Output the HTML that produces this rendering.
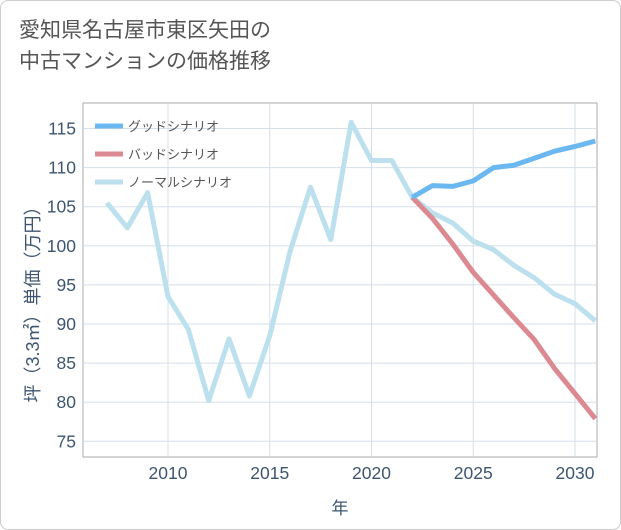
<!DOCTYPE html>
<html><head><meta charset="utf-8"><style>
body{margin:0;background:#fff;}
#wrap{position:relative;width:619px;height:528px;border:1px solid #ccc;border-radius:8px;background:#fff;overflow:hidden;font-family:"Liberation Sans","Noto Sans CJK JP",sans-serif;}
#title{position:absolute;left:18px;top:14px;font-size:21px;line-height:31px;color:#555;}
</style></head><body>
<div id="wrap">
<div id="title">愛知県名古屋市東区矢田の<br>中古マンションの価格推移</div>
<svg id="chart" width="621" height="530" style="position:absolute;left:-1px;top:-1px"></svg>
</div>
<script>
const years=[2007,2008,2009,2010,2011,2012,2013,2014,2015,2016,2017,2018,2019,2020,2021,2022,2023,2024,2025,2026,2027,2028,2029,2030,2031];
const normal=[105.5,102.3,106.8,93.5,89.3,80.2,88.1,80.8,88.5,99.3,107.5,100.8,115.8,110.9,110.9,106.2,104.2,102.9,100.6,99.5,97.5,95.9,93.8,92.6,90.4];
const futYears=[2022,2023,2024,2025,2026,2027,2028,2029,2030,2031];
const good=[106.2,107.7,107.6,108.3,110.0,110.3,111.2,112.1,112.7,113.4];
const bad=[106.2,103.5,100.2,96.6,93.7,90.8,88.0,84.3,81.1,77.9];
const xTicks=[2010,2015,2020,2025,2030];
const yTicks=[75,80,85,90,95,100,105,110,115];
const NS='http://www.w3.org/2000/svg';
const svg=document.getElementById('chart');
const L=83,R=597,T=103,B=457;
const x=v=>168+(v-2010)*20.35;
const y=v=>128.5+(115-v)*7.82;
function mk(tag,a,p){const e=document.createElementNS(NS,tag);for(const k in a)e.setAttribute(k,a[k]);(p||svg).appendChild(e);return e;}
const frame=mk('rect',{x:L,y:T,width:R-L,height:B-T,fill:'none',stroke:'#aaa','stroke-width':1});


yTicks.forEach(v=>{
 const g=mk('line',{x1:L,x2:R,y1:y(v),y2:y(v),stroke:'#d5dfe8','stroke-width':1});
 
 
 const t=mk('text',{x:L-7,y:y(v)+6,'text-anchor':'end','font-size':17.5,fill:'#3d5570'});t.textContent=v;
 
 
});
xTicks.forEach(v=>{
 const g=mk('line',{x1:x(v),x2:x(v),y1:T,y2:B,stroke:'#d5dfe8','stroke-width':1});
 
 
 const t=mk('text',{x:x(v),y:B+22,'text-anchor':'middle','font-size':17.5,fill:'#3d5570'});t.textContent=v;
 
 
});
const xt=mk('text',{x:340,y:514,'text-anchor':'middle','font-size':17,fill:'#3d5570'});xt.textContent='年';


const yt=mk('text',{x:0,y:0,'text-anchor':'middle','font-size':18,fill:'#3d5570',transform:'translate(39,300) rotate(-90)'});yt.textContent='坪（3.3㎡）単価（万円）';


const clip=mk('clipPath',{id:'cp'});mk('rect',{x:L,y:T,width:R-L,height:B-T},clip);
function line(xs,vs,color,name){
 const p=mk('polyline',{points:xs.map((t,i)=>x(t)+','+y(vs[i])).join(' '),fill:'none',stroke:color,'stroke-width':5,'stroke-linejoin':'round','clip-path':'url(#cp)'});
 
 
}
line(years,normal,'#bde0ee','normal-scenario-line');
line(futYears,bad,'#dc8a92','bad-scenario-line');
line(futYears,good,'#6bb8f0','good-scenario-line');
[['グッドシナリオ','#6bb8f0'],['バッドシナリオ','#dc8a92'],['ノーマルシナリオ','#bde0ee']].forEach((e,i)=>{
 const yy=126+i*28;
 const l=mk('line',{x1:95,x2:123,y1:yy,y2:yy,stroke:e[1],'stroke-width':5});
 
 
 const t=mk('text',{x:128,y:yy+5,'font-size':13,fill:'#555'});t.textContent=e[0];
 
 
});
</script>
</body></html>
